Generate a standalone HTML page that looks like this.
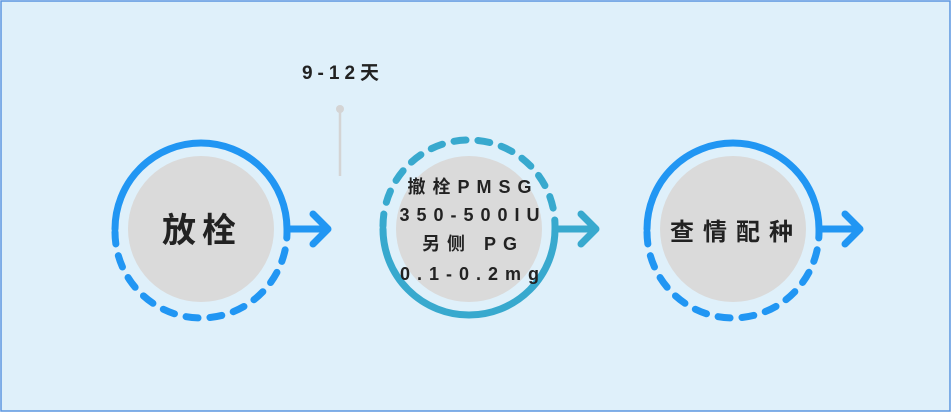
<!DOCTYPE html>
<html><head><meta charset="utf-8"><style>
html,body{margin:0;padding:0;width:951px;height:412px;overflow:hidden;background:#fff}
svg{display:block}
text{font-family:"Liberation Sans","Noto Sans CJK SC",sans-serif;font-weight:bold;fill:#222}
</style></head><body>
<svg width="951" height="412" viewBox="0 0 951 412">
<rect x="1" y="1" width="949" height="410" fill="#dff0fa" stroke="#5b95e0" stroke-width="1.5"/>
<text x="343" y="79" font-size="19" text-anchor="middle" letter-spacing="5">9-12天</text>
<line x1="340" y1="109" x2="340" y2="176" stroke="#d4d4d4" stroke-width="2.5"/>
<circle cx="340" cy="109" r="4" fill="#d4d4d4"/>

<!-- circle 1 -->
<circle cx="201" cy="229" r="73" fill="#dadada"/>
<path d="M115 229 A86 86 0 0 1 287 229 L326 229" fill="none" stroke="#2196f3" stroke-width="7" stroke-linecap="round"/>
<path d="M313 214 L328 229 L313 244" fill="none" stroke="#2196f3" stroke-width="7" stroke-linecap="round" stroke-linejoin="round"/>
<path d="M115 232 A86 86 0 0 0 287 232" fill="none" stroke="#2196f3" stroke-width="7" stroke-linecap="round" stroke-dasharray="12 12"/>
<text x="202" y="242" font-size="34" text-anchor="middle" letter-spacing="6">放栓</text>

<!-- circle 2 -->
<circle cx="469" cy="229" r="73" fill="#dadada"/>
<path d="M383 226 A86 86 0 0 1 555 226" fill="none" stroke="#38a9ce" stroke-width="7" stroke-linecap="round" stroke-dasharray="12 12"/>
<path d="M383 229 A86 86 0 0 0 555 229 L594 229" fill="none" stroke="#38a9ce" stroke-width="7" stroke-linecap="round"/>
<path d="M581 214 L596 229 L581 244" fill="none" stroke="#38a9ce" stroke-width="7" stroke-linecap="round" stroke-linejoin="round"/>
<g font-size="18" text-anchor="middle" letter-spacing="7">
<text x="473" y="193">撤栓PMSG</text>
<text x="473" y="221">350-500IU</text>
<text x="473" y="250">另侧 PG</text>
<text x="473" y="280">0.1-0.2mg</text>
</g>

<!-- circle 3 -->
<circle cx="733" cy="229" r="73" fill="#dadada"/>
<path d="M647 229 A86 86 0 0 1 819 229 L858 229" fill="none" stroke="#2196f3" stroke-width="7" stroke-linecap="round"/>
<path d="M845 214 L860 229 L845 244" fill="none" stroke="#2196f3" stroke-width="7" stroke-linecap="round" stroke-linejoin="round"/>
<path d="M647 232 A86 86 0 0 0 819 232" fill="none" stroke="#2196f3" stroke-width="7" stroke-linecap="round" stroke-dasharray="12 12"/>
<text x="736" y="240" font-size="24" text-anchor="middle" letter-spacing="9">查情配种</text>
</svg>
</body></html>
